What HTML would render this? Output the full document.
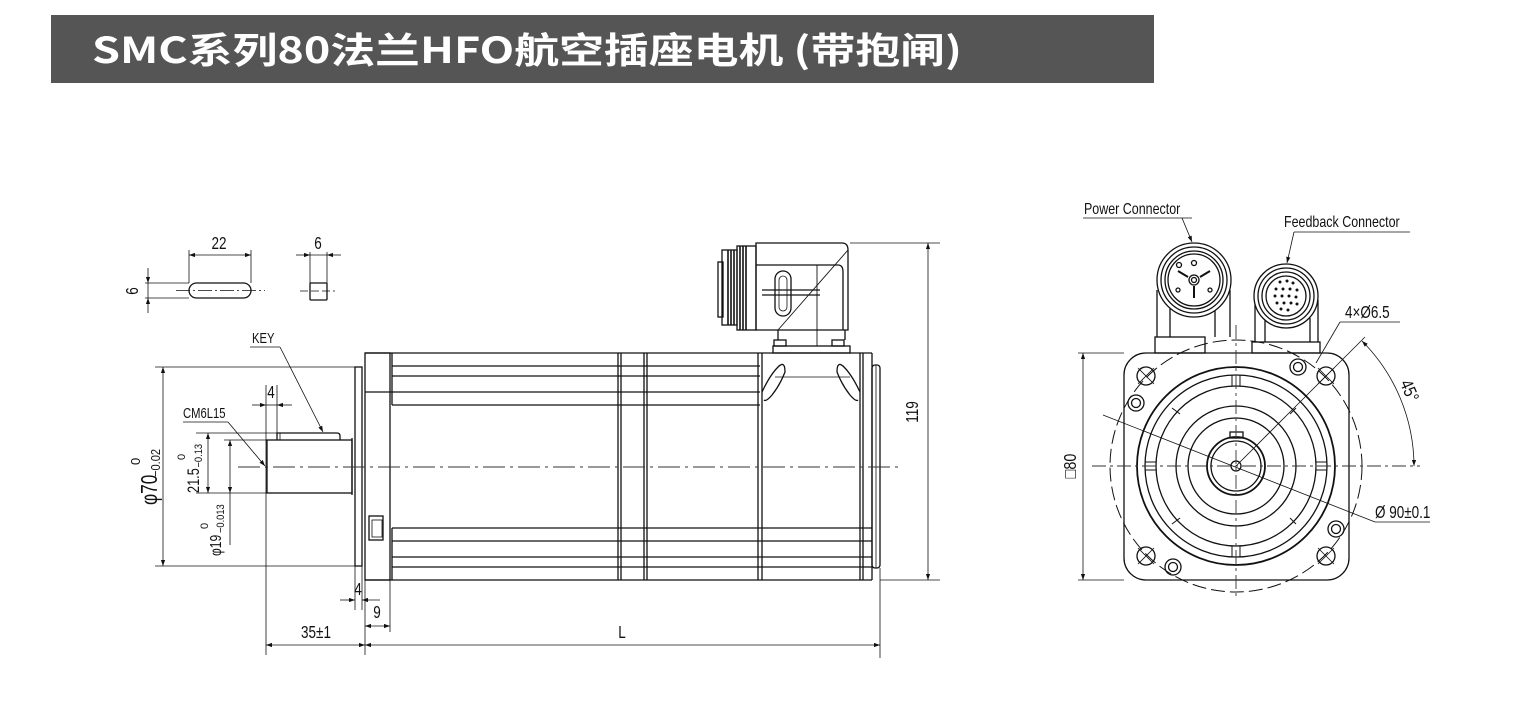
<!DOCTYPE html>
<html><head><meta charset="utf-8"><style>
html,body{margin:0;padding:0;background:#fff;}
svg{display:block}
.t{font-family:"Liberation Sans","DejaVu Sans",sans-serif;fill:#111;}
</style></head><body>
<svg width="1520" height="726" viewBox="0 0 1520 726" xmlns="http://www.w3.org/2000/svg">
<defs>
<marker id="a" viewBox="0 0 10 10" refX="10" refY="5" markerWidth="8" markerHeight="6" orient="auto-start-reverse" markerUnits="userSpaceOnUse"><path d="M0,1.5 L10,5 L0,8.5 z" fill="#111"/></marker>
</defs>
<rect x="51" y="15" width="1103" height="68" fill="#555"/>
<text x="92" y="63" font-family="'Noto Sans CJK SC','WenQuanYi Zen Hei',sans-serif" font-weight="bold" font-size="36" fill="#fff" textLength="870" lengthAdjust="spacingAndGlyphs">SMC系列80法兰HFO航空插座电机 (带抱闸)</text>

<g stroke="#111" stroke-width="1.3" fill="none">
<rect x="189" y="283" width="62" height="15" rx="7.5"/>
<line x1="176" y1="290.5" x2="265" y2="290.5" stroke-dasharray="14,3,2,3" stroke-width="0.8"/>
<line x1="189" y1="250" x2="189" y2="283" stroke-width="0.8"/><line x1="251" y1="250" x2="251" y2="283" stroke-width="0.8"/>
<line x1="189" y1="255" x2="251" y2="255" stroke-width="0.8" marker-start="url(#a)" marker-end="url(#a)"/>
<line x1="145" y1="283" x2="189" y2="283" stroke-width="0.8"/><line x1="145" y1="298" x2="189" y2="298" stroke-width="0.8"/>
<line x1="148" y1="268" x2="148" y2="283" stroke-width="0.8" marker-end="url(#a)"/><line x1="148" y1="313" x2="148" y2="298" stroke-width="0.8" marker-end="url(#a)"/>
<line x1="148" y1="283" x2="148" y2="298" stroke-width="0.8"/>
<rect x="310" y="283" width="17" height="17" rx="1"/>
<line x1="300" y1="291" x2="335" y2="291" stroke-dasharray="8,3" stroke-width="0.8"/>
<line x1="310" y1="252" x2="310" y2="283" stroke-width="0.8"/><line x1="327" y1="252" x2="327" y2="283" stroke-width="0.8"/>
<line x1="296" y1="255" x2="310" y2="255" stroke-width="0.8" marker-end="url(#a)"/><line x1="341" y1="255" x2="327" y2="255" stroke-width="0.8" marker-end="url(#a)"/>
<line x1="310" y1="255" x2="327" y2="255" stroke-width="0.8"/>

<rect x="267" y="440" width="85" height="53"/>
<line x1="352" y1="438" x2="352" y2="495"/>
<path d="M277 440 L277 433 L337 433 Q340 433 340 436 L340 440"/>
<line x1="280" y1="433" x2="280" y2="440" stroke-width="0.8"/>
<rect x="355" y="367" width="7" height="199"/>
<rect x="365" y="353" width="25" height="227"/>
<line x1="392" y1="353" x2="392" y2="405"/><line x1="392" y1="528" x2="392" y2="580"/>
<rect x="369" y="516" width="14" height="24"/><rect x="372" y="520" width="10" height="17" stroke-width="0.8"/>
<line x1="365" y1="353" x2="872" y2="353"/>
<line x1="392" y1="366" x2="760" y2="366"/>
<line x1="392" y1="376" x2="760" y2="376"/>
<line x1="365" y1="392" x2="760" y2="392"/>
<line x1="392" y1="405" x2="760" y2="405"/>
<line x1="392" y1="528" x2="872" y2="528"/>
<line x1="392" y1="541" x2="872" y2="541"/>
<line x1="392" y1="557" x2="872" y2="557"/>
<line x1="392" y1="567" x2="872" y2="567"/>
<line x1="365" y1="580" x2="872" y2="580"/>
<line x1="618" y1="353" x2="618" y2="580"/><line x1="621" y1="353" x2="621" y2="580"/>
<line x1="644" y1="353" x2="644" y2="580"/><line x1="647" y1="353" x2="647" y2="580"/>
<line x1="758" y1="353" x2="758" y2="580"/><line x1="762" y1="353" x2="762" y2="580"/>
<line x1="860" y1="353" x2="860" y2="580"/><line x1="863" y1="353" x2="863" y2="580"/>
<line x1="872" y1="353" x2="872" y2="580"/>
<path d="M762 392 Q770 375 778 367 Q785 360 785 372 Q780 385 772 395 Q766 402 764 400"/>
<path d="M860 392 Q852 375 844 367 Q837 360 837 372 Q842 385 850 395 Q856 402 858 400"/>
<line x1="775" y1="377" x2="850" y2="377" stroke-width="0.8"/>
<rect x="872" y="365" width="8" height="203" rx="3"/>
<line x1="876" y1="365" x2="876" y2="568" stroke-width="0.8"/>
<rect x="773" y="346" width="77" height="7"/>
<rect x="774" y="340" width="12" height="6"/><rect x="832" y="340" width="12" height="6"/>
<line x1="778" y1="330" x2="778" y2="340"/><line x1="845" y1="330" x2="845" y2="340"/>
<path d="M756 243 L842 243 Q848 243 848 250 L848 330 L756 330 Z"/>
<path d="M756 265 L838 265 Q843 265 843 272 L843 330"/>
<line x1="762" y1="290" x2="820" y2="290"/><line x1="762" y1="295" x2="820" y2="295"/>
<rect x="775" y="271" width="16" height="45" rx="8"/>
<rect x="779" y="276" width="8" height="35" rx="4" stroke-width="0.8"/>
<line x1="778" y1="330" x2="848" y2="250" stroke-width="0.9"/>
<line x1="817" y1="265" x2="817" y2="346" stroke-width="0.9"/>
<rect x="737" y="246" width="19" height="84"/>
<rect x="722" y="250" width="15" height="75"/>
<rect x="718" y="262" width="5" height="55"/>
<g stroke-width="1.6"><line x1="728" y1="250" x2="728" y2="325"/><line x1="731" y1="250" x2="731" y2="325"/><line x1="734" y1="250" x2="734" y2="325"/><line x1="740" y1="246" x2="740" y2="330"/><line x1="743" y1="246" x2="743" y2="330"/><line x1="746" y1="246" x2="746" y2="330"/></g>
</g>

<line x1="238" y1="467" x2="900" y2="467" stroke="#333" stroke-width="0.9" stroke-dasharray="22,5,3,5"/>

<g stroke="#111" stroke-width="0.8" fill="none">
<line x1="155" y1="367" x2="355" y2="367"/><line x1="155" y1="566" x2="355" y2="566"/>
<line x1="163" y1="367" x2="163" y2="566" marker-start="url(#a)" marker-end="url(#a)"/>
<line x1="196" y1="433" x2="277" y2="433"/><line x1="196" y1="493" x2="267" y2="493"/>
<line x1="208" y1="433" x2="208" y2="493" marker-start="url(#a)" marker-end="url(#a)"/>
<line x1="224" y1="440" x2="267" y2="440"/>
<line x1="230" y1="440" x2="230" y2="493" marker-start="url(#a)" marker-end="url(#a)"/>
<line x1="230" y1="493" x2="230" y2="545"/>
<line x1="266" y1="385" x2="266" y2="655"/><line x1="277" y1="385" x2="277" y2="433"/>
<line x1="252" y1="405" x2="266" y2="405" marker-end="url(#a)"/><line x1="292" y1="405" x2="277" y2="405" marker-end="url(#a)"/>
<line x1="266" y1="405" x2="277" y2="405"/>
<line x1="183" y1="422" x2="228" y2="422"/><line x1="228" y1="422" x2="265" y2="466" marker-end="url(#a)"/>
<line x1="250" y1="347" x2="280" y2="347"/><line x1="280" y1="347" x2="323" y2="432" marker-end="url(#a)"/>
<line x1="355" y1="566" x2="355" y2="610"/><line x1="362" y1="566" x2="362" y2="610"/>
<line x1="340" y1="600" x2="355" y2="600" marker-end="url(#a)"/><line x1="380" y1="600" x2="362" y2="600" marker-end="url(#a)"/>
<line x1="365" y1="580" x2="365" y2="655"/><line x1="390" y1="580" x2="390" y2="632"/>
<line x1="365" y1="626" x2="390" y2="626" marker-start="url(#a)" marker-end="url(#a)"/>
<line x1="266" y1="645" x2="365" y2="645" marker-start="url(#a)" marker-end="url(#a)"/>
<line x1="365" y1="645" x2="880" y2="645" marker-start="url(#a)" marker-end="url(#a)"/>
<line x1="880" y1="568" x2="880" y2="658"/>
<line x1="850" y1="243" x2="940" y2="243"/><line x1="880" y1="580" x2="940" y2="580"/>
<line x1="928" y1="243" x2="928" y2="580" marker-start="url(#a)" marker-end="url(#a)"/>
</g>
<g class="t" font-size="18">
<text transform="translate(219 249) scale(0.75 1)" text-anchor="middle">22</text>
<text transform="translate(318 249) scale(0.75 1)" text-anchor="middle">6</text>
<text text-anchor="middle" transform="translate(138 291) rotate(-90) scale(0.75 1)">6</text>
<text font-size="15" transform="translate(252 343) scale(0.75 1)">KEY</text>
<text font-size="15" transform="translate(183 418) scale(0.75 1)">CM6L15</text>
<text transform="translate(271 398) scale(0.75 1)" text-anchor="middle">4</text>
<text transform="translate(358 595) scale(0.75 1)" text-anchor="middle">4</text>
<text transform="translate(377 618) scale(0.75 1)" text-anchor="middle">9</text>
<text transform="translate(316 638) scale(0.75 1)" text-anchor="middle">35±1</text>
<text transform="translate(622 638) scale(0.75 1)" text-anchor="middle">L</text>
<text transform="translate(918 412) rotate(-90) scale(0.75 1)" text-anchor="middle">119</text>
<g transform="translate(157 505) rotate(-90)"><text x="0" y="0" font-size="23" transform="scale(0.75 1)">φ70</text><text x="40" y="-17" font-size="13">0</text><text x="33" y="3" font-size="13" transform="scale(0.85 1)">−0.02</text></g>
<g transform="translate(199 493) rotate(-90)"><text x="0" y="0" font-size="17" transform="scale(0.75 1)">21.5</text><text x="33" y="-14" font-size="11">0</text><text x="30" y="3" font-size="11" transform="scale(0.85 1)">−0.13</text></g>
<g transform="translate(221 556) rotate(-90)"><text x="0" y="0" font-size="16" transform="scale(0.75 1)">φ19</text><text x="27" y="-13" font-size="11">0</text><text x="27" y="3" font-size="11" transform="scale(0.85 1)">−0.013</text></g>
</g>

<g stroke="#111" stroke-width="1.3" fill="none">
<rect x="1124" y="353" width="225" height="227" rx="22"/>
<circle cx="1236" cy="466" r="99" stroke-width="1.8"/>
<circle cx="1236" cy="466" r="91"/>
<circle cx="1236" cy="466" r="80"/>
<circle cx="1236" cy="466" r="60"/>
<circle cx="1236" cy="466" r="48"/>
<circle cx="1236" cy="466" r="29" stroke-width="1.8"/>
<circle cx="1236" cy="466" r="25"/>
<circle cx="1236" cy="466" r="5"/>
<rect x="1230" y="432" width="13" height="6"/>
<circle cx="1236" cy="466" r="126" stroke-dasharray="14,5" stroke-width="1"/>
<g stroke-width="1"><line x1="1232" y1="375" x2="1232" y2="386"/><line x1="1240" y1="375" x2="1240" y2="386"/>
<line x1="1232" y1="546" x2="1232" y2="557"/><line x1="1240" y1="546" x2="1240" y2="557"/>
<line x1="1145" y1="462" x2="1156" y2="462"/><line x1="1145" y1="470" x2="1156" y2="470"/>
<line x1="1316" y1="462" x2="1327" y2="462"/><line x1="1316" y1="470" x2="1327" y2="470"/>
<line x1="1172" y1="408" x2="1180" y2="414"/><line x1="1296" y1="408" x2="1290" y2="414"/>
<line x1="1172" y1="524" x2="1180" y2="518"/><line x1="1296" y1="524" x2="1290" y2="518"/></g>
<g><circle cx="1146" cy="376" r="9"/><circle cx="1326" cy="376" r="9"/><circle cx="1146" cy="556" r="9"/><circle cx="1326" cy="556" r="9"/>
<path d="M1138 368L1154 384M1154 368L1138 384M1318 368L1334 384M1334 368L1318 384M1138 548L1154 564M1154 548L1138 564M1318 548L1334 564M1334 548L1318 564" stroke-width="0.8"/></g>
<g><circle cx="1136" cy="403" r="8"/><circle cx="1136" cy="403" r="4.5"/>
<circle cx="1298" cy="367" r="8"/><circle cx="1298" cy="367" r="4.5"/>
<circle cx="1336" cy="529" r="8"/><circle cx="1336" cy="529" r="4.5"/>
<circle cx="1173" cy="567" r="8"/><circle cx="1173" cy="567" r="4.5"/></g>
<rect x="1155" y="337" width="50" height="16"/><rect x="1252" y="342" width="68" height="11"/>
<line x1="1157" y1="290" x2="1157" y2="337"/><line x1="1170" y1="305" x2="1170" y2="337"/>
<line x1="1215" y1="305" x2="1215" y2="337"/><line x1="1230" y1="290" x2="1230" y2="337"/>
<line x1="1255" y1="300" x2="1255" y2="342"/><line x1="1265" y1="318" x2="1265" y2="342"/>
<line x1="1310" y1="318" x2="1310" y2="342"/><line x1="1318" y1="300" x2="1318" y2="342"/>
<circle cx="1194" cy="280" r="37" fill="#fff"/><circle cx="1194" cy="280" r="33"/><circle cx="1194" cy="280" r="29"/><circle cx="1194" cy="280" r="26"/>
<circle cx="1194" cy="280" r="5"/><circle cx="1194" cy="280" r="2.5"/>
<path d="M1194 286V298M1188 277L1178 271M1200 277L1210 271" stroke-width="2"/>
<circle cx="1194" cy="263" r="2.5"/><circle cx="1178" cy="290" r="2"/><circle cx="1210" cy="290" r="2"/><circle cx="1179" cy="265" r="2.5"/>
<circle cx="1286" cy="296" r="32" fill="#fff"/><circle cx="1286" cy="296" r="28"/><circle cx="1286" cy="296" r="24"/><circle cx="1286" cy="296" r="20"/>
<g fill="#111" stroke="none"><circle cx="1280" cy="282" r="1.5"/><circle cx="1287" cy="281" r="1.5"/><circle cx="1293" cy="283" r="1.5"/>
<circle cx="1276" cy="289" r="1.5"/><circle cx="1283" cy="289" r="1.5"/><circle cx="1290" cy="289" r="1.5"/><circle cx="1297" cy="290" r="1.5"/>
<circle cx="1275" cy="296" r="1.5"/><circle cx="1282" cy="296" r="1.5"/><circle cx="1289" cy="296" r="1.5"/><circle cx="1296" cy="297" r="1.5"/>
<circle cx="1277" cy="303" r="1.5"/><circle cx="1284" cy="303" r="1.5"/><circle cx="1291" cy="303" r="1.5"/><circle cx="1297" cy="304" r="1.5"/>
<circle cx="1281" cy="309" r="1.5"/><circle cx="1288" cy="310" r="1.5"/></g>
</g>
<g stroke="#333" stroke-width="0.9" fill="none" stroke-dasharray="14,4,3,4">
<line x1="1092" y1="466" x2="1420" y2="466"/><line x1="1236" y1="325" x2="1236" y2="600"/>
</g>
<g stroke="#111" stroke-width="0.8" fill="none">
<line x1="1078" y1="353" x2="1124" y2="353"/><line x1="1078" y1="580" x2="1124" y2="580"/>
<line x1="1083" y1="353" x2="1083" y2="580" marker-start="url(#a)" marker-end="url(#a)"/>
<line x1="1103" y1="415" x2="1375" y2="522"/><line x1="1375" y1="522" x2="1430" y2="522"/>
<line x1="1340" y1="322" x2="1400" y2="322"/><line x1="1340" y1="322" x2="1316" y2="363"/>
<line x1="1326" y1="376" x2="1300" y2="402"/><line x1="1236" y1="466" x2="1300" y2="402"/>
<line x1="1326" y1="376" x2="1365" y2="337"/>
<path d="M1362 341 A178 178 0 0 1 1414 466" marker-start="url(#a)" marker-end="url(#a)"/>
<line x1="1083" y1="218" x2="1192" y2="218"/><line x1="1182" y1="218" x2="1192" y2="242" marker-end="url(#a)"/>
<line x1="1294" y1="232" x2="1410" y2="232"/><line x1="1294" y1="232" x2="1287" y2="263" marker-end="url(#a)"/>
</g>
<g class="t" font-size="16">
<text transform="translate(1084 214) scale(0.78 1)">Power Connector</text>
<text transform="translate(1284 227) scale(0.78 1)">Feedback Connector</text>
<text font-size="18" transform="translate(1345 318) scale(0.75 1)">4×Ø6.5</text>
<text font-size="18" transform="translate(1375 518) scale(0.75 1)">Ø 90±0.1</text>
<text transform="translate(1404 393) rotate(67) scale(0.8 1)" font-size="18" text-anchor="middle">45°</text>
<text transform="translate(1076 466) rotate(-90) scale(0.8 1)" font-size="18" text-anchor="middle">□80</text>
</g>
</svg>
</body></html>
